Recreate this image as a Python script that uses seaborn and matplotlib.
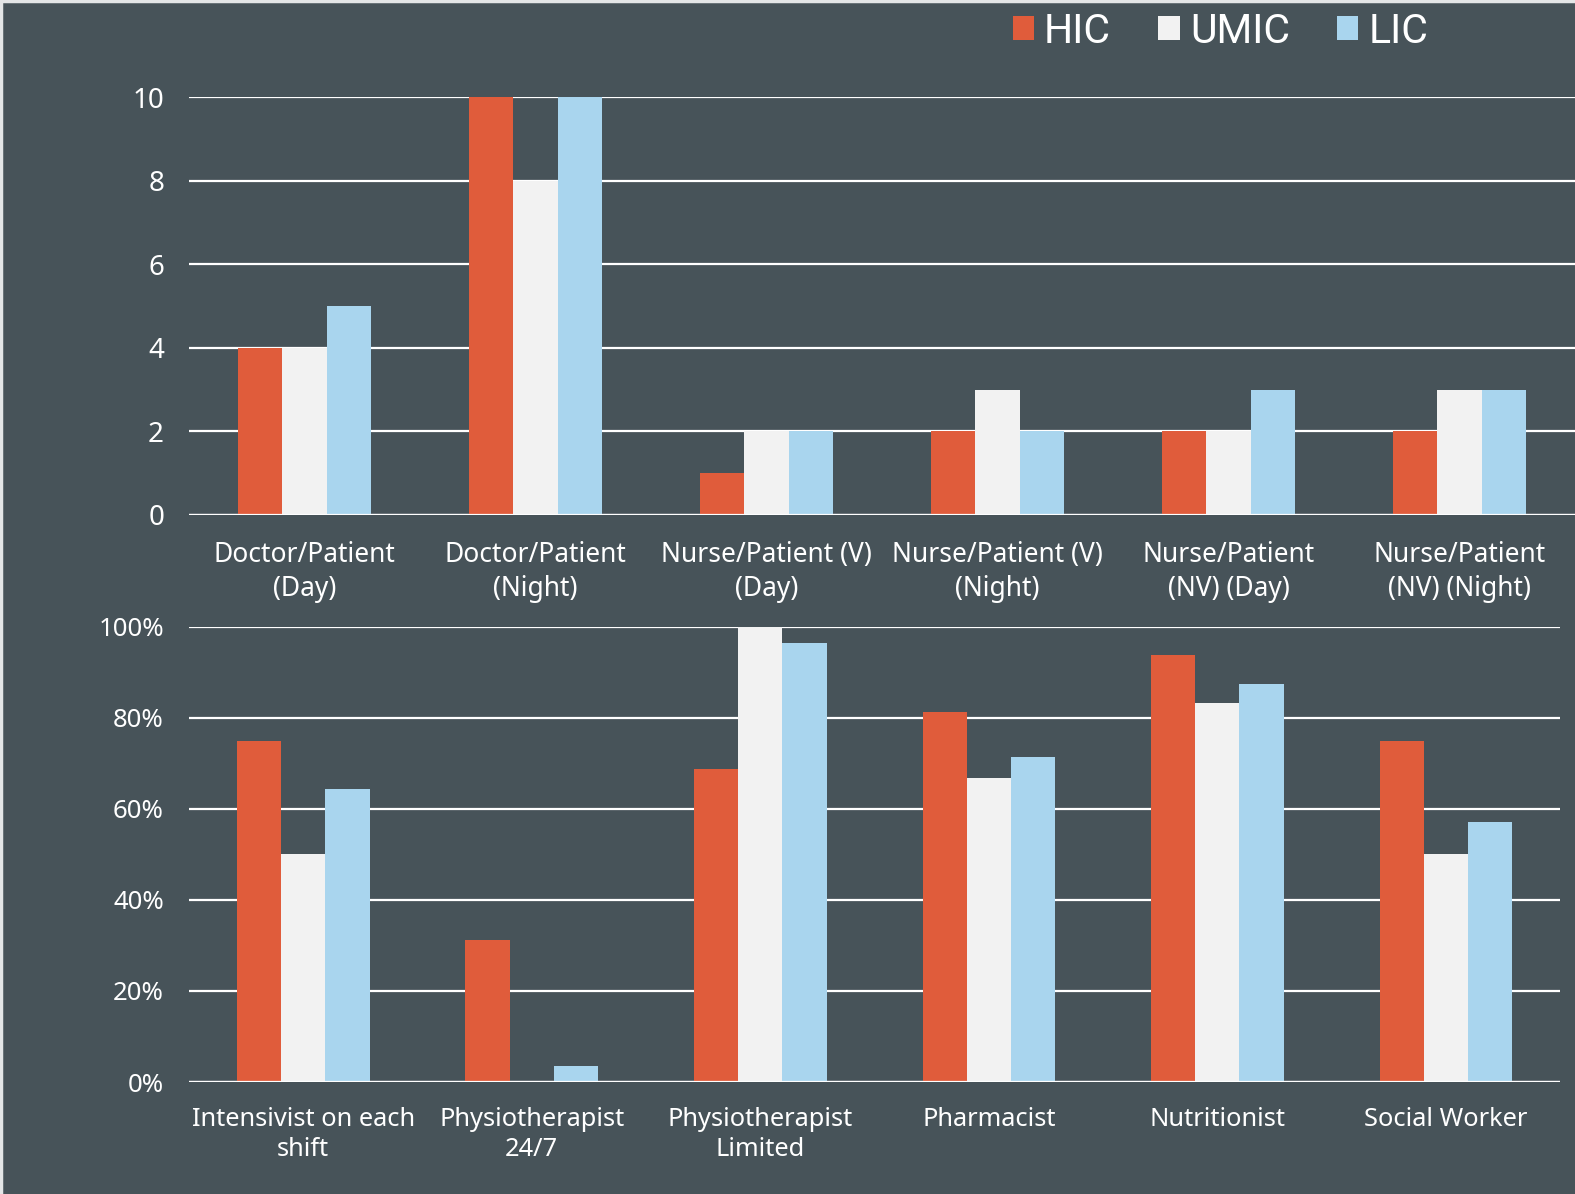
import matplotlib
matplotlib.use("Agg")
import matplotlib.pyplot as plt
from matplotlib.lines import Line2D
from matplotlib.patches import Patch
from matplotlib.ticker import FuncFormatter
import pandas as pd
import seaborn as sns

# Staffing ratios (patients per staff member)
ratio_categories = [
    "Doctor/Patient\n(Day)", "Doctor/Patient\n(Night)", "Nurse/Patient (V)\n(Day)",
    "Nurse/Patient (V)\n(Night)", "Nurse/Patient\n(NV) (Day)", "Nurse/Patient\n(NV) (Night)",
]
ratio_hic = [4, 10, 1, 2, 2, 2]
ratio_umic = [4, 8, 2, 3, 2, 3]
ratio_lic = [5, 10, 2, 2, 3, 3]

# Availability of staff roles (% of units)
role_categories = [
    "Intensivist on each\nshift", "Physiotherapist\n24/7", "Physiotherapist\nLimited",
    "Pharmacist", "Nutritionist", "Social Worker",
]
role_hic = [75, 31.25, 68.75, 81.25, 93.75, 75]
role_umic = [50, 0, 100, 66.7, 83.3, 50]
role_lic = [64.3, 3.6, 96.4, 71.4, 87.5, 57.1]

groups = ["HIC", "UMIC", "LIC"]
colors = {"HIC": "#E05C3B", "UMIC": "#F2F2F2", "LIC": "#A9D5EE"}
bg = "#475359"


def long_frame(cats, hic, umic, lic):
    rows = []
    for g, vals in zip(groups, [hic, umic, lic]):
        for c, v in zip(cats, vals):
            rows.append({"category": c, "group": g, "value": v})
    return pd.DataFrame(rows)


sns.set_theme(style="white")
plt.rcParams["font.family"] = ["Noto Sans", "DejaVu Sans"]
plt.rcParams["text.color"] = "white"

fig = plt.figure(figsize=(15.75, 11.94), dpi=100, facecolor=bg)

# thin light frame along the top and left edges
fig.add_artist(Line2D([0, 1], [0.999, 0.999], transform=fig.transFigure,
                      color="#e4e6e7", linewidth=2.5))
fig.add_artist(Line2D([0.0007, 0.0007], [0, 1], transform=fig.transFigure,
                      color="#e4e6e7", linewidth=2.5))

ax1 = fig.add_axes([0.12, 0.5687, 0.88, 0.3497])
ax2 = fig.add_axes([0.12, 0.0938, 0.8705, 0.3811])

df1 = long_frame(ratio_categories, ratio_hic, ratio_umic, ratio_lic)
df2 = long_frame(role_categories, role_hic, role_umic, role_lic)

for ax, df in [(ax1, df1), (ax2, df2)]:
    ax.set_facecolor(bg)
    sns.barplot(data=df, x="category", y="value", hue="group", hue_order=groups,
                palette=colors, width=0.58, gap=0, saturation=1, legend=False,
                edgecolor="none", linewidth=0, ax=ax, zorder=2)
    ax.set_axisbelow(True)
    ax.yaxis.grid(True, color="white", linewidth=1.6)
    ax.xaxis.grid(False)
    for s in ax.spines.values():
        s.set_visible(False)
    ax.axhline(0, color="white", linewidth=1.6, zorder=5)
    ax.set_xlabel("")
    ax.set_ylabel("")
    ax.set_xlim(-0.5, 5.5)
    ax.tick_params(axis="both", length=0, colors="white", labelsize=19)
    ax.tick_params(axis="y", pad=18)
    for lbl in ax.get_xticklabels():
        lbl.set_linespacing(1.25)

ax1.set_ylim(0, 10)
ax1.set_yticks([0, 2, 4, 6, 8, 10])
ax1.tick_params(axis="x", pad=19)
ax1.tick_params(axis="y", labelsize=20)

ax2.set_ylim(0, 100)
ax2.set_yticks([0, 20, 40, 60, 80, 100])
ax2.yaxis.set_major_formatter(FuncFormatter(lambda v, p: f"{v:.0f}%"))
ax2.tick_params(axis="x", pad=18, labelsize=18.3)
ax2.tick_params(axis="y", labelsize=18.5)

handles = [Patch(facecolor=colors[g], edgecolor="none", label=g) for g in groups]
fig.legend(handles=handles, loc="center", bbox_to_anchor=(0.775, 0.974), ncol=3,
           frameon=False, handlelength=0.52, handleheight=0.52,
           handletextpad=0.25, columnspacing=1.15,
           prop={"family": ["Liberation Sans Narrow", "Roboto", "DejaVu Sans"], "size": 29.5})

fig.savefig("out.png", dpi=100, facecolor=bg)
